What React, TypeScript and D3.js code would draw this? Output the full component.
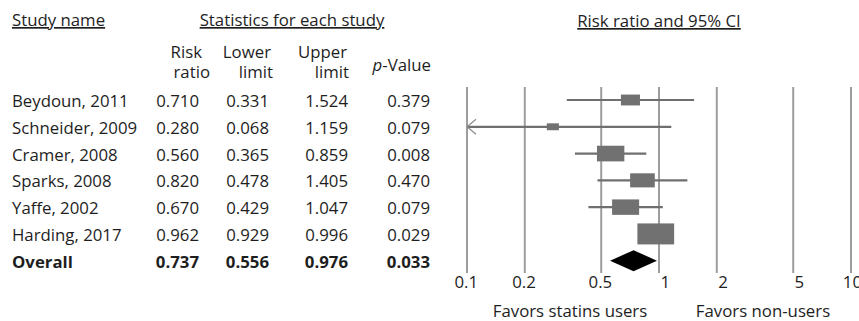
import React from 'react'
import * as d3 from 'd3'

const studies = ['Beydoun, 2011', 'Schneider, 2009', 'Cramer, 2008', 'Sparks, 2008', 'Yaffe, 2002', 'Harding, 2017']
const riskRatio = [0.710, 0.280, 0.560, 0.820, 0.670, 0.962]
const lowerLimit = [0.331, 0.068, 0.365, 0.478, 0.429, 0.929]
const upperLimit = [1.524, 1.159, 0.859, 1.405, 1.047, 0.996]
const pValue = [0.379, 0.079, 0.008, 0.470, 0.079, 0.029]
const weights = [9.2, 3.7, 19.0, 15.4, 18.5, 34.2] // relative weight, %

const overall = { name: 'Overall', rr: 0.737, lo: 0.556, hi: 0.976, p: 0.033 }

const ticks = [0.1, 0.2, 0.5, 1, 2, 5, 10]
const tickLabels = ['0.1', '0.2', '0.5', '1', '2', '5', '10']

const W = 859
const H = 321
const FONT = "'Open Sans', sans-serif"
const TEXT = '#1e1e1e'

export default function App() {
  const x = d3.scaleLog().domain([0.1, 10]).range([467, 851])
  const rows = [...studies, overall.name]
  const y = d3.scalePoint<string>().domain(rows).range([100, 260.7])
  const boxH = d3.scaleSqrt().domain([0, 34.2]).range([0, 21])
  const fmt = d3.format('.3f')

  // right edges of the table columns
  const cols = [199, 269, 348, 430]
  const heads = [
    ['Risk', 'ratio', 3, 11],
    ['Lower', 'limit', 2, 4],
    ['Upper', 'limit', -1, 1],
  ] as const

  const gridTop = 87
  const gridBottom = 273

  const tableRows = studies.map((s, i) => ({
    name: s, vals: [riskRatio[i], lowerLimit[i], upperLimit[i], pValue[i]], bold: false,
  }))
  tableRows.push({ name: overall.name, vals: [overall.rr, overall.lo, overall.hi, overall.p], bold: true })

  const diamond = [
    [x(overall.lo), y(overall.name)!],
    [x(overall.rr), y(overall.name)! - 10.5],
    [x(overall.hi), y(overall.name)!],
    [x(overall.rr), y(overall.name)! + 10.5],
  ]

  return (
    <svg width={W} height={H} viewBox={`0 0 ${W} ${H}`}
      style={{ position: 'absolute', left: 0, top: 0, background: '#fff' }}
      fontFamily={FONT} fontSize={16.8} fill={TEXT}>
      {/* headers */}
      <text x={12} y={26} textDecoration="underline">Study name</text>
      <text x={292} y={26} textAnchor="middle" textDecoration="underline">Statistics for each study</text>
      <text x={659} y={27} textAnchor="middle" textDecoration="underline">Risk ratio and 95% CI</text>
      {heads.map(([a, b, d1, d2], i) => (
        <g key={a} textAnchor="end">
          <text x={cols[i] + d1} y={58}>{a}</text>
          <text x={cols[i] + d2} y={78}>{b}</text>
        </g>
      ))}
      <text x={cols[3] + 1} y={71} textAnchor="end">
        <tspan fontStyle="italic">p</tspan>-Value
      </text>

      {/* table */}
      {tableRows.map(r => (
        <g key={r.name} fontWeight={r.bold ? 'bold' : 'normal'}>
          <text x={12} y={y(r.name)! + 7}>{r.name}</text>
          {r.vals.map((v, j) => (
            <text key={j} x={cols[j]} y={y(r.name)! + 7} textAnchor="end">{fmt(v)}</text>
          ))}
        </g>
      ))}

      {/* grid */}
      {ticks.map((t, i) => (
        <g key={t}>
          <line x1={x(t)} x2={x(t)} y1={gridTop} y2={gridBottom} stroke="#9d9d9d" strokeWidth={2} />
          <text x={x(t) + 11} y={288} textAnchor="end">{tickLabels[i]}</text>
        </g>
      ))}

      {/* studies */}
      {studies.map((s, i) => {
        const cy = y(s)!
        const lo = Math.max(lowerLimit[i], 0.1)
        const h = boxH(weights[i])
        const w = h * 1.75
        return (
          <g key={s}>
            <line x1={x(lo)} x2={x(upperLimit[i])} y1={cy} y2={cy} stroke="#6f6f6f" strokeWidth={2.2} />
            {lowerLimit[i] < 0.1 && (
              <path d={`M${x(0.1) + 9},${cy - 7.5}L${x(0.1)},${cy}L${x(0.1) + 9},${cy + 7.5}`}
                fill="none" stroke="#8c8c8c" strokeWidth={1.2} />
            )}
            <rect x={x(riskRatio[i]) - w / 2} y={cy - h / 2} width={w} height={h} fill="#717171" />
          </g>
        )
      })}

      {/* overall */}
      <polygon points={diamond.map(p => p.join(',')).join(' ')} fill="#000" />

      <text x={570} y={317} textAnchor="middle">Favors statins users</text>
      <text x={763} y={317} textAnchor="middle">Favors non-users</text>
    </svg>
  )
}
